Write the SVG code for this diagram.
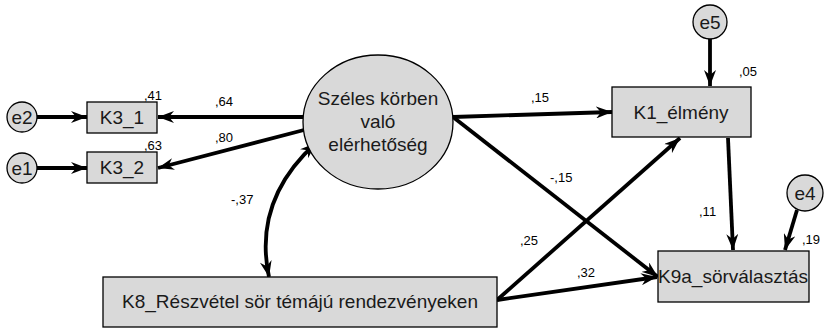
<svg xmlns="http://www.w3.org/2000/svg" width="824" height="328" viewBox="0 0 824 328">
<style>
.n{fill:#d9d9d9;stroke:#000;stroke-width:1.3}
.t{font-family:"Liberation Sans",Arial,sans-serif;font-size:19px;fill:#1a1a1a;text-anchor:middle}
.l{font-family:"Liberation Sans",Arial,sans-serif;font-size:13px;fill:#000}
.c{fill:none;stroke:#000;stroke-width:3.8}
</style>
<defs>
<marker id="a" markerUnits="userSpaceOnUse" viewBox="0 0 16 12" refX="16" refY="6" markerWidth="16" markerHeight="12" orient="auto-start-reverse">
<path d="M0,0 L16,6 L0,12 L5,6 z" fill="#000"/>
</marker>
</defs>
<g id="connectors">
<line class="c" x1="37" y1="117" x2="87" y2="117" marker-end="url(#a)"/>
<line class="c" x1="37" y1="168" x2="87" y2="168" marker-end="url(#a)"/>
<line class="c" x1="303" y1="117" x2="158" y2="117" marker-end="url(#a)"/>
<line class="c" x1="304" y1="130" x2="158" y2="168" marker-end="url(#a)"/>
<line class="c" x1="453" y1="117" x2="612" y2="112" marker-end="url(#a)"/>
<line class="c" x1="453" y1="117" x2="658" y2="277" marker-end="url(#a)"/>
<line class="c" x1="710" y1="39" x2="710" y2="86" marker-end="url(#a)"/>
<line class="c" x1="728" y1="138" x2="733" y2="250" marker-end="url(#a)"/>
<line class="c" x1="797" y1="210" x2="785" y2="250" marker-end="url(#a)"/>
<line class="c" x1="497" y1="300" x2="680" y2="138" marker-end="url(#a)"/>
<line class="c" x1="497" y1="300" x2="657" y2="277" marker-end="url(#a)"/>
<path class="c" d="M316,143 C275,180 258,225 269,277" marker-start="url(#a)" marker-end="url(#a)"/>
</g>
<g id="e2"><circle class="n" cx="22" cy="117" r="15"/><text class="t" x="22" y="124">e2</text></g>
<g id="e1"><circle class="n" cx="22" cy="168" r="15"/><text class="t" x="22" y="175">e1</text></g>
<g id="K3_1"><rect class="n" x="87" y="102" width="70" height="31"/><text class="t" x="122" y="124">K3_1</text></g>
<g id="K3_2"><rect class="n" x="87" y="152" width="70" height="31"/><text class="t" x="122" y="174">K3_2</text></g>
<g id="F"><ellipse class="n" cx="378" cy="122" rx="75" ry="67"/>
<text class="t" x="378" y="105">Széles körben</text>
<text class="t" x="378" y="128">való</text>
<text class="t" x="378" y="151">elérhetőség</text></g>
<g id="K1"><rect class="n" x="612" y="87" width="139" height="50"/><text class="t" x="681" y="119">K1_élmény</text></g>
<g id="e5"><circle class="n" cx="710" cy="22" r="17"/><text class="t" x="710" y="29">e5</text></g>
<g id="K8"><rect class="n" x="103" y="277" width="394" height="50"/><text class="t" x="300" y="308">K8_Részvétel sör témájú rendezvényeken</text></g>
<g id="K9a"><rect class="n" x="658" y="251" width="151" height="51"/><text class="t" x="733" y="283">K9a_sörválasztás</text></g>
<g id="e4"><circle class="n" cx="805" cy="193" r="18"/><text class="t" x="805" y="200">e4</text></g>
<g id="labels">
<text class="l" x="144" y="100">,41</text>
<text class="l" x="144" y="150">,63</text>
<text class="l" x="215" y="106">,64</text>
<text class="l" x="215" y="142">,80</text>
<text class="l" x="231" y="204">-,37</text>
<text class="l" x="531" y="102">,15</text>
<text class="l" x="550" y="182">-,15</text>
<text class="l" x="739" y="76">,05</text>
<text class="l" x="699" y="216">,11</text>
<text class="l" x="802" y="244">,19</text>
<text class="l" x="520" y="245">,25</text>
<text class="l" x="577" y="277">,32</text>
</g>
</svg>
